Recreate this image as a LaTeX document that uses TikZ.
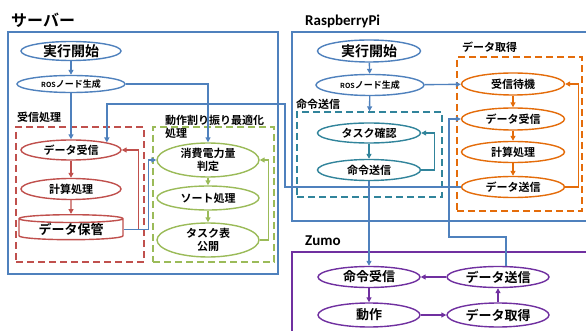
\documentclass[tikz,border=0pt]{standalone}
\usepackage{fontspec}
\setmainfont{Noto Sans CJK JP}[BoldFont={Noto Sans CJK JP Bold}]
\newfontfamily\latin{Carlito}
\usepackage{tikz}
\usetikzlibrary{shapes.geometric, arrows.meta}

\definecolor{srvblue}{HTML}{4F81BD}
\definecolor{recvred}{HTML}{C0504D}
\definecolor{optgreen}{HTML}{9BBB59}
\definecolor{cmdteal}{HTML}{31849B}
\definecolor{getorange}{HTML}{E46C0A}
\definecolor{zumopurple}{HTML}{7030A0}

\begin{document}
\begin{tikzpicture}[x=1pt, y=-1pt,
		proc/.style={shape=ellipse, draw, fill=white, line width=1.4pt, minimum width=102pt, minimum height=21pt, inner sep=0pt, align=center, font=\bfseries\fontsize{11}{13}\selectfont},
		area/.style={shape=rectangle, draw, line width=1.3pt, inner sep=0pt},
		zone/.style={area, dash pattern=on 7pt off 4pt},
		title/.style={anchor=west, inner sep=0pt, font=\bfseries\fontsize{11}{13}\selectfont, align=left},
		link/.style={line width=1.4pt, -{Triangle[length=5pt,width=5pt]}}]
					\useasboundingbox (0,0) rectangle (586,331);
					% frames
					\node[area, draw=srvblue, minimum width=270pt, minimum height=242pt] (server) at (143,153) {};
					\node[area, draw=srvblue, minimum width=303pt, minimum height=189pt] (rpi) at (443.5,126.5) {};
					\node[area, draw=zumopurple, minimum width=303pt, minimum height=100pt] (zumo) at (443.5,302) {};
					\node[zone, draw=recvred, minimum width=128pt, minimum height=135pt] (recvbox) at (80,194.5) {};
					\node[zone, draw=optgreen, minimum width=121pt, minimum height=135pt] (optbox) at (213.5,194.5) {};
					\node[zone, draw=cmdteal, minimum width=145pt, minimum height=85pt] (cmdbox) at (369.5,154.5) {};
					\node[zone, draw=getorange, minimum width=125pt, minimum height=154pt] (getbox) at (519.5,134) {};
					
					% titles
					\node[title, font=\bfseries\fontsize{16}{18}\selectfont] (srvtitle) at (11,20) {サーバー};
					\node[title, font=\latin\bfseries\fontsize{15}{17}\selectfont] (rpititle) at (305,21) {RaspberryPi};
					\node[title, font=\latin\bfseries\fontsize{15}{17}\selectfont] (zumotitle) at (305,241) {Zumo};
					\node[title] (recvtitle) at (17,117) {受信処理};
					\node[title] (opttitle) at (165,126.5) {動作割り振り最適化\\処理};
					\node[title] (cmdtitle) at (296,104) {命令送信};
					\node[title] (gettitle) at (462,47) {データ取得};
					
					% server
					\node[proc, draw=srvblue, minimum width=100pt, minimum height=19pt, font=\bfseries\fontsize{14}{16}\selectfont] (s_start) at (71,51) {実行開始};
					\node[proc, draw=srvblue, minimum width=108pt, minimum height=17pt, font=\bfseries\fontsize{9}{11}\selectfont] (s_ros) at (71,84) {{\fontsize{7}{8}\selectfont ROS}ノード生成};
					\node[proc, draw=recvred, minimum width=100pt, minimum height=20pt] (s_recv) at (71,150) {データ受信};
					\node[proc, draw=recvred, minimum width=100pt] (s_calc) at (71,189) {計算処理};
					\node[shape=cylinder, shape border rotate=90, aspect=0.12, draw=recvred, fill=white, line width=1.4pt, minimum width=104pt, minimum height=25pt, inner sep=0pt, font=\bfseries\fontsize{13}{15}\selectfont] (s_store) at (71,229.5) {データ保管};
					\node[proc, draw=optgreen, minimum height=34pt] (s_power) at (208,160) {消費電力量\\判定};
					\node[proc, draw=optgreen, minimum height=24pt] (s_sort) at (208,198) {ソート処理};
					\node[proc, draw=optgreen, minimum height=34pt] (s_task) at (208,240) {タスク表\\公開};
					
					% raspberry pi
					\node[proc, draw=srvblue, minimum width=103pt, minimum height=22pt, font=\bfseries\fontsize{14}{16}\selectfont] (r_start) at (369,51) {実行開始};
					\node[proc, draw=srvblue, minimum width=108pt, minimum height=21pt, font=\bfseries\fontsize{9}{11}\selectfont] (r_ros) at (370,85) {{\fontsize{7}{8}\selectfont ROS}ノード生成};
					\node[proc, draw=cmdteal, minimum width=103pt, minimum height=20pt] (r_check) at (369,133) {タスク確認};
					\node[proc, draw=cmdteal, minimum width=103pt] (r_send) at (369,170) {命令送信};
					\node[proc, draw=getorange, minimum width=103pt, minimum height=22pt] (r_wait) at (513,84) {受信待機};
					\node[proc, draw=getorange, minimum width=103pt, minimum height=22pt] (r_recv) at (513,119) {データ受信};
					\node[proc, draw=getorange, minimum width=103pt] (r_calc) at (513,152) {計算処理};
					\node[proc, draw=getorange, minimum width=103pt] (r_out) at (513,187) {データ送信};
					
					% zumo
					\node[proc, draw=zumopurple, font=\bfseries\fontsize{13}{15}\selectfont] (z_recv) at (369,277) {命令受信};
					\node[proc, draw=zumopurple, font=\bfseries\fontsize{13}{15}\selectfont] (z_out) at (498,277) {データ送信};
					\node[proc, draw=zumopurple, minimum height=24pt, font=\bfseries\fontsize{13}{15}\selectfont] (z_move) at (369,315) {動作};
					\node[proc, draw=zumopurple, minimum height=24pt, font=\bfseries\fontsize{13}{15}\selectfont] (z_get) at (498,315) {データ取得};
					
					% server links
					\path [link, srvblue] (s_start) edge (s_ros);
					\path [link, srvblue] (s_ros) edge (s_recv);
					\draw [link, srvblue] (s_ros.east) -| (s_power.north);
					\path [link, recvred] (s_recv) edge (s_calc);
					\path [link, recvred] (s_calc) edge (s_store);
					\draw [link, recvred] (s_store.east) -- ++(15,0) |- (s_recv.east);
					\draw [link, srvblue] (s_store.east) -- ++(25,0) |- (s_power.west);
					\path [link, optgreen] (s_power) edge (s_sort);
					\path [link, optgreen] (s_sort) edge (s_task);
					\draw [link, optgreen] (s_task.east) -- ++(9,0) |- (s_power.east);
					
					% raspberry pi links
					\path [link, srvblue] (r_start) edge (r_ros);
					\path [link, srvblue] (r_ros) edge (cmdbox.north);
					\path [link, srvblue] (r_ros) edge (r_wait);
					\path [link, cmdteal] (r_check) edge (r_send);
					\draw [link, cmdteal] (r_send.east) -- ++(13,0) |- (r_check.east);
					\path [link, getorange] (r_wait) edge (r_recv);
					\path [link, getorange] (r_recv) edge (r_calc);
					\path [link, getorange] (r_calc) edge (r_out);
					\draw [link, getorange] (r_out.east) -- ++(13,0) |- (r_wait.east);
					\draw [link, srvblue] (r_out.west) -| (285,104) -| (s_recv.north east);
					
					% zumo links
					\path [link, srvblue] (r_send) edge (z_recv);
					\draw [link, srvblue] ([xshift=8pt]z_out.north) |- (449,237) |- (r_recv.west);
					\path [link, zumopurple] (z_out) edge (z_recv);
					\path [link, zumopurple] (z_recv) edge (z_move);
					\path [link, zumopurple] (z_move) edge (z_get);
					\path [link, zumopurple] (z_get) edge (z_out);
\end{tikzpicture}
\end{document}
